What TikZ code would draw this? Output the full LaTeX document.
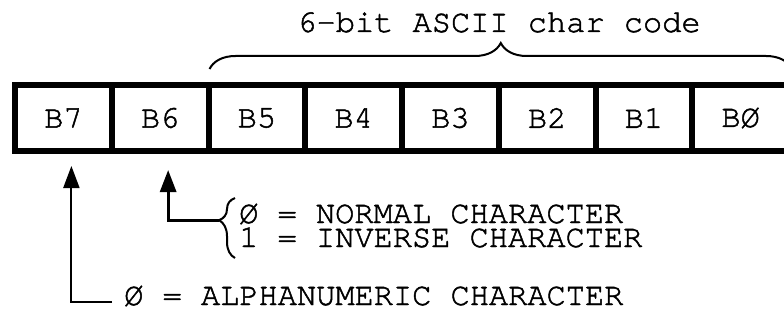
\documentclass[tikz,border=0pt]{standalone}
\usepackage{fontspec}
\setmonofont[FakeBold=1.5]{TeX Gyre Cursor}
\usetikzlibrary{arrows.meta, positioning, decorations.pathreplacing}

\begin{document}
\begin{tikzpicture}[
        x=1pt, y=1pt, node distance=96.75pt, on grid, >={Triangle[width=16pt,length=22pt]},
        every node/.style={font=\ttfamily\fontsize{32}{24}\selectfont},
        cell/.style={draw, line width=6pt, minimum width=96.75pt, minimum height=66pt, inner sep=0pt},
        legend/.style={anchor=base west, inner sep=0pt, text height=19pt, text depth=1pt},
        bracket/.style={line width=2pt, decorate, decoration={brace, #1}},
        ]
        \useasboundingbox (0,0) rectangle (784,322);
        \clip (0,0) rectangle (784,322);

        % register cells
        \node[cell]               (b7) at (63.4,204) {B7};
        \node[cell, right=of b7]  (b6) {B6};
        \node[cell, right=of b6]  (b5) {B5};
        \node[cell, right=of b5]  (b4) {B4};
        \node[cell, right=of b4]  (b3) {B3};
        \node[cell, right=of b3]  (b2) {B2};
        \node[cell, right=of b2]  (b1) {B1};
        \node[cell, right=of b1]  (b0) {BØ};

        \node[anchor=base] (title) at (499,290) {6-bit ASCII char code};
        \draw[bracket={amplitude=26pt}] ([shift={(4pt,13pt)}]b5.north west) -- ([yshift=13pt]b0.north east);

        \node[legend] (normal)  at (239,99) {Ø = NORMAL CHARACTER};
        \node[legend] (inverse) at (239,75) {1 = INVERSE CHARACTER};
        \node[legend] (alpha)   at (124,17) {Ø = ALPHANUMERIC CHARACTER};

        \draw[bracket={amplitude=16pt, aspect=0.63}] ([shift={(-4pt,-11pt)}]inverse.base west) -- ([shift={(-4pt,25pt)}]normal.base west);
        \coordinate (tip) at (219,102);

        \draw[->, line width=3pt, shorten >=16pt] (tip) -| ([xshift=8pt]b6.south);
        \draw[->, line width=2pt, shorten >=12pt] ([shift={(-12pt,3pt)}]alpha.base west) -| ([xshift=8pt]b7.south);
\end{tikzpicture}
\end{document}
